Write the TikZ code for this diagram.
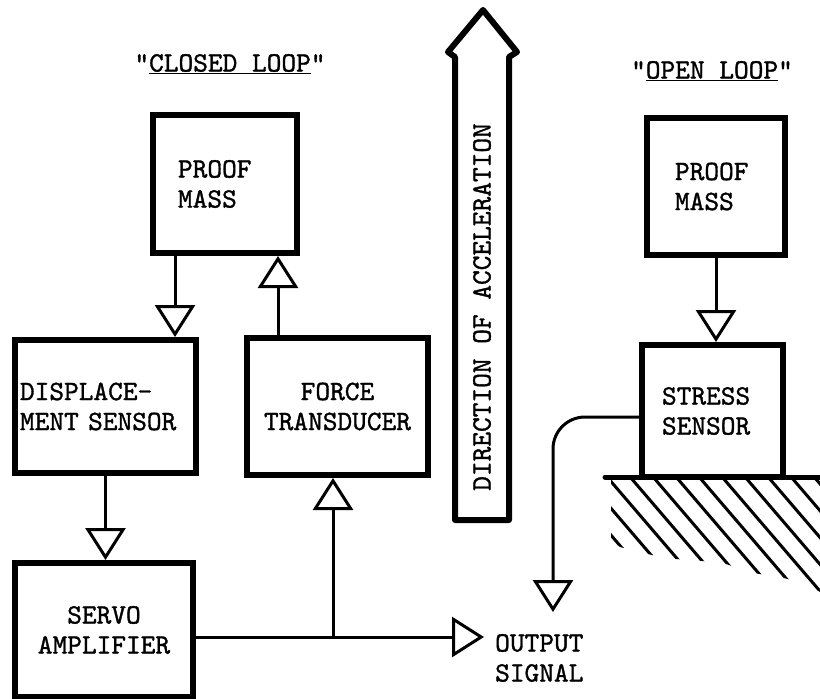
\documentclass[tikz,border=0pt]{standalone}
\usepackage{fontspec}
\newfontfamily\typefont[FakeBold=1.2]{lmmono10-regular.otf}
\usetikzlibrary{positioning,arrows.meta,calc}

\begin{document}
\begin{tikzpicture}[
		x=1pt, y=-1pt,
		font=\typefont\fontsize{28}{30}\selectfont,
		box/.style={draw, line width=6pt, inner ysep=0pt, align=left},
		arr/.style={-{Triangle[open, length=32pt, width=40pt]}, line width=3pt},
		hatch/.style={line width=3pt}
		]
		\useasboundingbox (0,0) rectangle (820,699);
		% titles
		\node (closed) at (230,64) {"\underline{CLOSED LOOP}"};
		\node (open) at (712,71) {"\underline{OPEN LOOP}"};
		% closed loop
		\node[box, text width=94pt, inner xsep=25pt, minimum height=138pt] (pmL) at (225,184) {PROOF\\MASS};
		\node[box, text width=171pt, inner xsep=5pt, minimum height=133pt] (disp) at (105.5,406.5) {DISPLACE-\\MENT SENSOR};
		\node[box, text width=171pt, inner xsep=5pt, align=center, minimum height=137pt] (force) at (337.5,406.5) {FORCE\\TRANSDUCER};
		\node[box, text width=168pt, inner xsep=5pt, align=center, minimum height=134pt] (servo) at (104,630) {SERVO\\AMPLIFIER};
		\node[anchor=west, align=left, inner sep=0pt] (out) at (495,658) {OUTPUT\\SIGNAL};
		\coordinate (pmLout) at ([xshift=25pt]pmL.south west);
		\coordinate (pmLin) at ([xshift=-22pt]pmL.south east);
		\coordinate (branch) at (333,637);
		\coordinate (outtip) at (484,637);
		\draw[arr] (pmLout) -- (pmLout |- disp.north);
		\draw[arr] (pmLin |- force.north) -- (pmLin);
		\draw[arr] (disp.south) -- (disp.south |- servo.north);
		\draw[arr] (servo.east |- branch) -- (outtip);
		\draw[arr] (branch) -- (branch |- force.south);
		% direction of acceleration
		\draw[line width=6pt, line join=round] (455,520) -- (455,57) -- (448,52) -- (483,10)
			-- (517,52) -- (509,57) -- (509,520) -- cycle;
		\node[rotate=90] (accel) at (482,307) {DIRECTION OF ACCELERATION};
		% open loop
		\node[box, text width=82pt, inner xsep=28pt, minimum height=137pt] (pmR) at (716,186.5) {PROOF\\MASS};
		\node[box, text width=101pt, inner xsep=20pt, minimum height=132pt] (stress) at (712.5,411) {STRESS\\SENSOR};
		\coordinate (wiretip) at (553,612);
		\draw[arr] (pmR.south) -- (pmR.south |- stress.north);
		\draw[arr, rounded corners=32pt] ([yshift=-6pt]stress.west)
			-- ([yshift=-6pt]stress.west -| wiretip) -- (wiretip);
		% ground
		\draw[line width=5pt, line cap=round] (605,477) -- (820,477);
		\begin{scope}
			\clip (611,478) -- (820,478) -- (820,592) -- (807,584) -- (780,577) -- (753,573)
				-- (726,564) -- (702,561) -- (676,559) -- (652,555) -- (620,547) -- (611,540) -- cycle;
			\foreach \hx in {562,585,...,838}
				\draw[hatch] (\hx,478) -- ++(150,175);
		\end{scope}
	\end{tikzpicture}
\end{document}
